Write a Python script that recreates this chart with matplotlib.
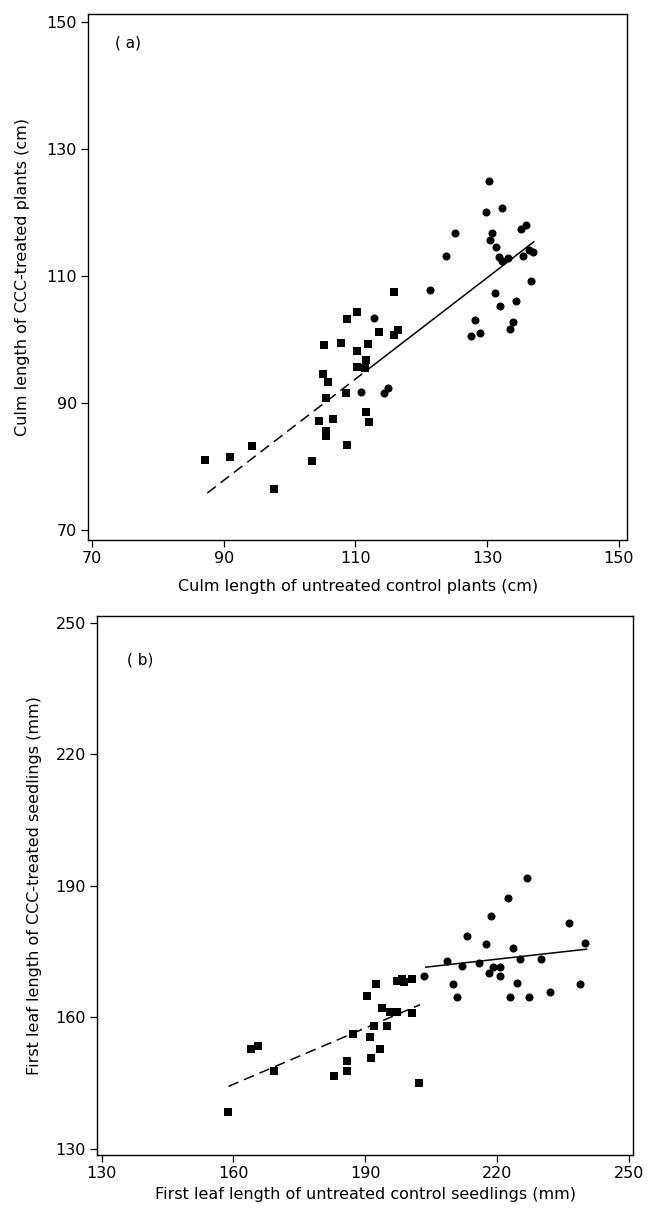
import matplotlib
matplotlib.use("Agg")
import matplotlib.pyplot as plt
import numpy as np

plt.rcParams['font.family'] = ['DejaVu Sans']

# ---- panel (a): culm length (cm) ----
a_sq_x = [115.8, 110.2, 108.8, 113.6, 115.8, 116.4, 105.3, 107.8, 111.9, 110.2,
          111.6, 110.3, 111.4, 105.1, 105.9, 105.6, 108.5, 111.6, 112.0, 104.5,
          106.6, 105.6, 105.6, 108.8, 94.3, 91.0, 87.2, 103.4, 97.7]
a_sq_y = [107.4, 104.3, 103.2, 101.1, 100.7, 101.5, 99.1, 99.5, 99.3, 98.2,
          96.8, 95.6, 95.5, 94.6, 93.3, 90.7, 91.5, 88.6, 87.0, 87.2,
          87.4, 85.6, 84.8, 83.4, 83.2, 81.5, 81.0, 80.8, 76.5]
a_ci_x = [130.3, 129.9, 132.2, 125.2, 130.8, 130.5, 135.1, 135.9, 131.3, 123.7,
          131.8, 132.2, 133.2, 135.5, 136.4, 137.0, 136.7, 121.3, 131.2, 131.9,
          134.4, 128.1, 127.6, 129.0, 134.0, 133.5, 112.8, 110.9, 114.3, 114.9]
a_ci_y = [124.9, 120.0, 120.7, 116.8, 116.8, 115.7, 117.4, 118.1, 114.6, 113.1,
          113.0, 112.3, 112.9, 113.1, 114.1, 113.7, 109.2, 107.8, 107.3, 105.3,
          106.1, 103.0, 100.6, 101.0, 102.7, 101.6, 103.4, 91.7, 91.6, 92.3]
# fitted line: slope, intercept, dashed range, solid range
a_fit = (0.798, 5.97)
a_dash_range = (87.5, 111.8)
a_solid_range = (111.8, 137.1)

# ---- panel (b): first leaf length (mm) ----
b_sq_x = [158.7, 164.0, 165.5, 169.3, 183.0, 185.8, 185.9, 187.2, 191.0, 191.4,
          193.4, 192.0, 194.9, 193.8, 195.7, 197.2, 200.6, 190.5, 192.4, 197.2,
          198.4, 198.9, 200.6, 202.3]
b_sq_y = [138.4, 152.7, 153.5, 147.8, 146.5, 150.0, 147.8, 156.1, 155.4, 150.8,
          152.7, 158.1, 158.1, 162.2, 161.1, 161.1, 160.9, 164.9, 167.6, 168.3,
          168.7, 168.0, 168.7, 145.0]
b_ci_x = [226.8, 222.5, 218.7, 236.5, 213.3, 217.4, 223.7, 208.7, 212.0, 216.0,
          225.3, 230.1, 219.2, 220.6, 218.2, 220.8, 203.4, 210.0, 224.6, 239.0,
          210.9, 223.0, 227.2, 232.1, 240.1]
b_ci_y = [191.7, 187.2, 183.2, 181.4, 178.5, 176.8, 175.7, 172.8, 171.7, 172.3,
          173.3, 173.3, 171.4, 171.4, 170.1, 169.5, 169.5, 167.5, 167.7, 167.5,
          164.6, 164.6, 164.6, 165.8, 177.0]
b_fit_dash = (0.427, 76.4)
b_dash_range = (158.9, 202.5)
b_fit_solid = (0.112, 148.6)
b_solid_range = (203.8, 240.4)

a_ticks = [70, 90, 110, 130, 150]
b_ticks = [130, 160, 190, 220, 250]


def style_axes(ax, ticks):
    ax.set_xticks(ticks)
    ax.set_yticks(ticks)
    ax.tick_params(direction='out', length=5, width=0.9, labelsize=11.5,
                   top=False, right=False, pad=3)
    for sp in ax.spines.values():
        sp.set_linewidth(1.0)


def fit_line(ax, fit, rng, ls):
    xs = np.array(rng)
    ax.plot(xs, fit[0] * xs + fit[1], color='black', lw=1.1, linestyle=ls)


fig = plt.figure(figsize=(6.48, 12.15), dpi=100)

ax1 = fig.add_axes([0.136, 0.5556, 0.832, 0.433])
ax1.plot(a_sq_x, a_sq_y, 's', color='black', ms=5.2, mew=0)
ax1.plot(a_ci_x, a_ci_y, 'o', color='black', ms=5.8, mew=0)
fit_line(ax1, a_fit, a_dash_range, (0, (7, 4)))
fit_line(ax1, a_fit, a_solid_range, '-')
ax1.set_xlim(69.4, 151.3)
ax1.set_ylim(68.4, 151.3)
style_axes(ax1, a_ticks)
ax1.text(0.05, 0.945, '( a)', transform=ax1.transAxes, fontsize=11, va='center')
ax1.set_xlabel('Culm length of untreated control plants (cm)', fontsize=11.5, labelpad=9)
ax1.set_ylabel('Culm length of CCC-treated plants (cm)', fontsize=11.5, labelpad=12)

ax2 = fig.add_axes([0.150, 0.0494, 0.827, 0.444])
ax2.plot(b_sq_x, b_sq_y, 's', color='black', ms=5.2, mew=0)
ax2.plot(b_ci_x, b_ci_y, 'o', color='black', ms=5.8, mew=0)
fit_line(ax2, b_fit_dash, b_dash_range, (0, (7, 4)))
fit_line(ax2, b_fit_solid, b_solid_range, '-')
ax2.set_xlim(129, 251)
ax2.set_ylim(128.6, 251.6)
style_axes(ax2, b_ticks)
ax2.text(0.056, 0.917, '( b)', transform=ax2.transAxes, fontsize=11, va='center')
ax2.set_xlabel('First leaf length of untreated control seedlings (mm)', fontsize=11.5, labelpad=4)
ax2.set_ylabel('First leaf length of CCC-treated seedlings (mm)', fontsize=11.5, labelpad=10)

fig.savefig('out.png', dpi=100)
